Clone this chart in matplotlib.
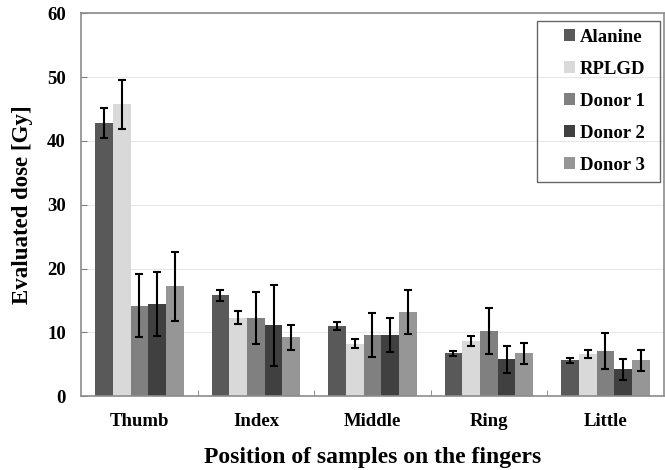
import numpy as np
import matplotlib
matplotlib.use("Agg")
import matplotlib.pyplot as plt
from matplotlib.patches import Rectangle

plt.rcParams['font.family'] = ['Liberation Serif', 'DejaVu Serif']
plt.rcParams['font.weight'] = 'bold'

# fingers and dose series (Gy)
fingers = ["Thumb", "Index", "Middle", "Ring", "Little"]
series = ["Alanine", "RPLGD", "Donor 1", "Donor 2", "Donor 3"]
colors = ["#595959", "#d9d9d9", "#808080", "#404040", "#969696"]

alanine = [42.8, 15.8, 11.0, 6.7, 5.6]
alanine_err = [2.4, 0.9, 0.6, 0.4, 0.4]
rplgd = [45.7, 12.3, 8.2, 8.6, 6.6]
rplgd_err = [3.8, 1.0, 0.7, 0.8, 0.6]
donor1 = [14.2, 12.2, 9.6, 10.2, 7.1]
donor1_err = [4.9, 4.1, 3.4, 3.6, 2.8]
donor2 = [14.5, 11.1, 9.6, 5.8, 4.2]
donor2_err = [5.0, 6.3, 2.7, 2.1, 1.6]
donor3 = [17.2, 9.2, 13.2, 6.7, 5.6]
donor3_err = [5.4, 2.0, 3.4, 1.7, 1.6]

values = [alanine, rplgd, donor1, donor2, donor3]
errors = [alanine_err, rplgd_err, donor1_err, donor2_err, donor3_err]

fig = plt.figure(figsize=(6.65, 4.7), dpi=100)
ax = fig.add_axes([0.122, 0.157, 0.876, 0.815])

x = np.arange(len(fingers))
w = 0.152
for i, (name, v, e, c) in enumerate(zip(series, values, errors, colors)):
    ax.bar(x + (i - 2) * w, v, w, color=c, label=name, zorder=2,
           yerr=e, error_kw=dict(ecolor='black', elinewidth=1.5, capsize=3, capthick=1.5, zorder=3))

ax.set_xlim(-0.5, len(fingers) - 0.5)
ax.set_ylim(0, 60)
ax.set_yticks(range(0, 61, 10))
ax.yaxis.grid(True, color='#e8e8e8', linewidth=0.8, zorder=0)
ax.set_xticks(x)
ax.set_xticklabels(fingers, fontsize=13.5, fontweight='bold')
ax.set_xticks(np.arange(0.5, len(fingers) - 0.5, 1), minor=True)
ax.tick_params(axis='x', which='major', length=0, pad=12)
ax.tick_params(axis='x', which='minor', direction='in', length=4, color='#808080')
ax.tick_params(axis='y', direction='in', length=4, color='#808080', labelsize=13.5, pad=11)
for lab in ax.get_yticklabels():
    lab.set_fontweight('bold')
for s in ax.spines.values():
    s.set_color('#8c8c8c')
    s.set_linewidth(1.2)

ax.set_ylabel("Evaluated dose [Gy]", fontsize=16.5, fontweight='bold', labelpad=10)
ax.set_xlabel("Position of samples on the fingers", fontsize=17, fontweight='bold', labelpad=12)

leg = ax.legend(loc='upper left', bbox_to_anchor=(558 / 665, 1 - 23 / 470),
                bbox_transform=fig.transFigure, frameon=False,
                prop={'weight': 'bold', 'size': 13.5},
                labelspacing=0.8, handlelength=0.6, handleheight=0.6, handletextpad=0.25,
                borderpad=0.3, borderaxespad=0.0)

# legend box drawn a bit wider than the entries, as in the original
ax.add_patch(Rectangle((537 / 665, 1 - 182 / 470), 123 / 665, 161 / 470,
                       transform=fig.transFigure, fill=False, edgecolor='#666666',
                       linewidth=1.0, zorder=5, clip_on=False))

fig.savefig("out.png", dpi=100)
